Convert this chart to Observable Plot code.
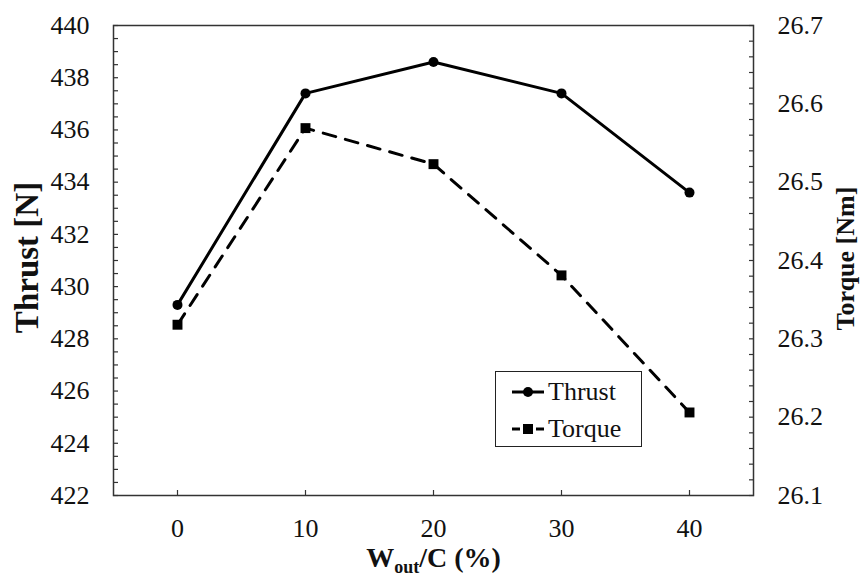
<!DOCTYPE html>
<html><head><meta charset="utf-8">
<script src="https://cdn.jsdelivr.net/npm/d3@7"></script>
<script src="https://cdn.jsdelivr.net/npm/@observablehq/plot@0.6"></script>
<style>
body{margin:0;background:#fff;}
#wrap{position:relative;width:861px;height:579px;font-family:"Liberation Serif","Times New Roman",serif;color:#111;}
#legend{position:absolute;left:495px;top:371px;width:147px;height:76px;border:1.5px solid #222;background:#fff;box-sizing:border-box;padding-top:1px;}
#legend .row{display:flex;align-items:center;height:37px;padding-left:15px;font-size:26px;line-height:26px;}
#legend svg{margin-right:3px;}
</style></head><body><div id="wrap"></div>
<script>
// Data
const wOut = [0, 10, 20, 30, 40];
const thrust = [429.3, 437.4, 438.6, 437.4, 433.6];
const torque = [26.318, 26.569, 26.523, 26.381, 26.206];
const xTicks = [0, 10, 20, 30, 40];
const thrustTicks = [422, 424, 426, 428, 430, 432, 434, 436, 438, 440];
const torqueTicks = [26.1, 26.2, 26.3, 26.4, 26.5, 26.6, 26.7];
const seriesNames = ["Thrust", "Torque"];
const yTitle = "Thrust [N]";
const y2Title = "Torque [Nm]";
const xTitleMain = "W", xTitleSub = "out", xTitleRest = "/C (%)";

const Y0 = 422, Y1 = 440, T0 = 26.1, T1 = 26.7;
const toY = t => Y0 + (t - T0) * (Y1 - Y0) / (T1 - T0);
const rows = wOut.map((w, i) => ({w, thrust: thrust[i], torqueY: toY(torque[i])}));
const minorLeft = d3.range(0, 37).map(i => Y0 + i * 0.5);
const minorRight = d3.range(0, 31).map(i => toY(T0 + i * 0.02));
const xTitle = xTitleMain + xTitleSub + xTitleRest;
const ink = "#111", axisInk = "#333";
const serif = "Liberation Serif";

const chart = Plot.plot({
  width: 861, height: 579,
  marginLeft: 113, marginRight: 108, marginTop: 25, marginBottom: 84,
  style: {fontFamily: "'Liberation Serif', 'Times New Roman', serif", fontSize: "26px", color: ink, background: "#fff"},
  x: {domain: [-5, 45]},
  y: {domain: [Y0, Y1]},
  marks: [
    Plot.axisY(minorLeft, {anchor: "left", tickSize: -5, fill: "none", stroke: axisInk, strokeWidth: 1.2, label: null}),
    Plot.axisY(thrustTicks, {anchor: "left", tickSize: 0, tickPadding: 24, fill: ink, fontSize: 26, fontFamily: serif, label: null}),
    Plot.axisY(minorRight, {anchor: "right", tickSize: -5, fill: "none", stroke: axisInk, strokeWidth: 1.2, label: null}),
    Plot.axisY(torqueTicks.map(toY), {anchor: "right", tickSize: 0, tickPadding: 24, fill: ink, fontSize: 26, fontFamily: serif, label: null,
      tickFormat: (d, i) => torqueTicks[i].toFixed(1)}),
    Plot.axisX(xTicks, {anchor: "bottom", tickSize: -5, fill: "none", stroke: axisInk, strokeWidth: 1.2, label: null}),
    Plot.axisX(xTicks, {anchor: "bottom", tickSize: 0, tickPadding: 23, fill: ink, fontSize: 26, fontFamily: serif, label: null}),
    Plot.frame({stroke: axisInk, strokeWidth: 1.5}),
    Plot.line(rows, {x: "w", y: "thrust", stroke: "#000", strokeWidth: 3}),
    Plot.dot(rows, {x: "w", y: "thrust", r: 5, fill: "#000", stroke: null}),
    Plot.line(rows, {x: "w", y: "torqueY", stroke: "#000", strokeWidth: 3, strokeDasharray: "13,10"}),
    Plot.dot(rows, {x: "w", y: "torqueY", symbol: "square", r: 5.6, fill: "#000", stroke: null}),
    Plot.text([yTitle], {frameAnchor: "left", textAnchor: "middle", dx: -86, dy: -3, rotate: -90, fontSize: 33, fontWeight: "bold", fontFamily: serif, fill: ink}),
    Plot.text([y2Title], {frameAnchor: "right", textAnchor: "middle", dx: 92, dy: -2, rotate: -90, fontSize: 26, fontWeight: "bold", fontFamily: serif, fill: ink}),
    Plot.text([xTitle], {frameAnchor: "bottom", dy: 71, fontSize: 28, fontWeight: "bold", fontFamily: serif, fill: ink})
  ]
});

// subscript in x title
d3.select(chart).selectAll("text").filter(function() { return this.textContent === xTitle; })
  .each(function() {
    const t = d3.select(this);
    t.text(null);
    t.append("tspan").text(xTitleMain);
    t.append("tspan").attr("font-size", 18).attr("dy", 6).text(xTitleSub);
    t.append("tspan").attr("dy", -6).text(xTitleRest);
  });

const wrap = document.getElementById("wrap");
wrap.appendChild(chart);

// legend
const legend = document.createElement("div");
legend.id = "legend";
seriesNames.forEach((name, i) => {
  const row = document.createElement("div");
  row.className = "row";
  const svg = d3.create("svg").attr("width", 34).attr("height", 16);
  if (i === 0) {
    svg.append("line").attr("x1", 1).attr("x2", 33).attr("y1", 8).attr("y2", 8).attr("stroke", "#000").attr("stroke-width", 3);
    svg.append("circle").attr("cx", 17).attr("cy", 8).attr("r", 5).attr("fill", "#000");
  } else {
    svg.append("line").attr("x1", 1).attr("x2", 9).attr("y1", 8).attr("y2", 8).attr("stroke", "#000").attr("stroke-width", 3);
    svg.append("line").attr("x1", 25).attr("x2", 33).attr("y1", 8).attr("y2", 8).attr("stroke", "#000").attr("stroke-width", 3);
    svg.append("rect").attr("x", 12).attr("y", 3).attr("width", 10).attr("height", 10).attr("fill", "#000");
  }
  row.appendChild(svg.node());
  const span = document.createElement("span");
  span.textContent = name;
  row.appendChild(span);
  legend.appendChild(row);
});
wrap.appendChild(legend);
</script>
</body></html>
